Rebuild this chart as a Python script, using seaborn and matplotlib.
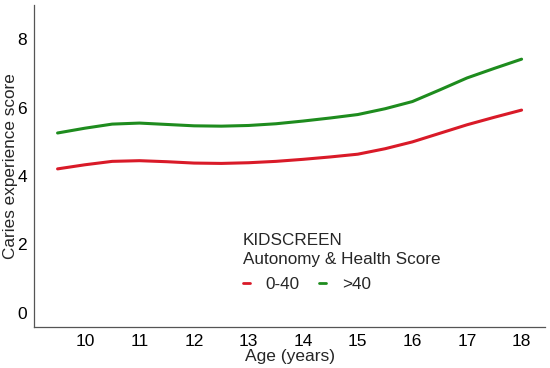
import matplotlib
matplotlib.use("Agg")
import matplotlib.pyplot as plt
import seaborn as sns
import pandas as pd

ages = [9.5, 10, 10.5, 11, 11.5, 12, 12.5, 13, 13.5, 14, 14.5, 15, 15.5, 16, 16.5, 17, 17.5, 18]
low_scores = [4.21, 4.33, 4.43, 4.45, 4.42, 4.38, 4.37, 4.39, 4.43, 4.49, 4.56, 4.64, 4.80, 5.00, 5.25, 5.50, 5.72, 5.93]
high_scores = [5.26, 5.40, 5.52, 5.55, 5.51, 5.47, 5.46, 5.48, 5.53, 5.61, 5.70, 5.80, 5.97, 6.18, 6.52, 6.87, 7.15, 7.42]
groups = ["0-40", ">40"]
colors = ["#D91A28", "#1E8C1E"]
x_ticks = [10, 11, 12, 13, 14, 15, 16, 17, 18]
y_ticks = [0, 2, 4, 6, 8]

df = pd.DataFrame({
    "age": ages + ages,
    "score": low_scores + high_scores,
    "group": [groups[0]] * len(ages) + [groups[1]] * len(ages),
})

sns.set_style("white")
plt.rcParams["font.family"] = ["Liberation Sans", "DejaVu Sans"]

fig = plt.figure(figsize=(5.5, 3.68), dpi=100)
ax = fig.add_axes([0.062, 0.111, 0.929, 0.875])
sns.lineplot(data=df, x="age", y="score", hue="group", hue_order=groups,
             palette=colors, linewidth=2.2, ax=ax)

ax.set_xlim(9.07, 18.43)
ax.set_ylim(-0.42, 9.0)
ax.set_xticks(x_ticks)
ax.set_yticks(y_ticks)
ax.set_xlabel("Age (years)", fontsize=12.5, labelpad=0)
ax.set_ylabel("Caries experience score", fontsize=12.3)
ax.yaxis.set_label_coords(-0.031, 0.5)
ax.tick_params(axis="both", labelsize=12.5, colors="#333333", length=3, width=0.8,
               direction="out", pad=2)
ax.tick_params(axis="both", labelcolor="black")
for s in ["top", "right"]:
    ax.spines[s].set_visible(False)
for s in ["left", "bottom"]:
    ax.spines[s].set_color("#555555")
    ax.spines[s].set_linewidth(0.9)

leg = ax.legend(title="KIDSCREEN\nAutonomy & Health Score", loc="upper left",
                bbox_to_anchor=(0.378, 0.34), ncol=2, frameon=False,
                handlelength=0.45, handletextpad=0.9, columnspacing=1.1,
                fontsize=12.3, title_fontsize=12.3, labelspacing=0.6)
leg._legend_box.align = "left"
leg.get_title().set_linespacing(1.3)
for h in leg.legend_handles:
    h.set_linewidth(2)

fig.savefig("out.png", dpi=100)
